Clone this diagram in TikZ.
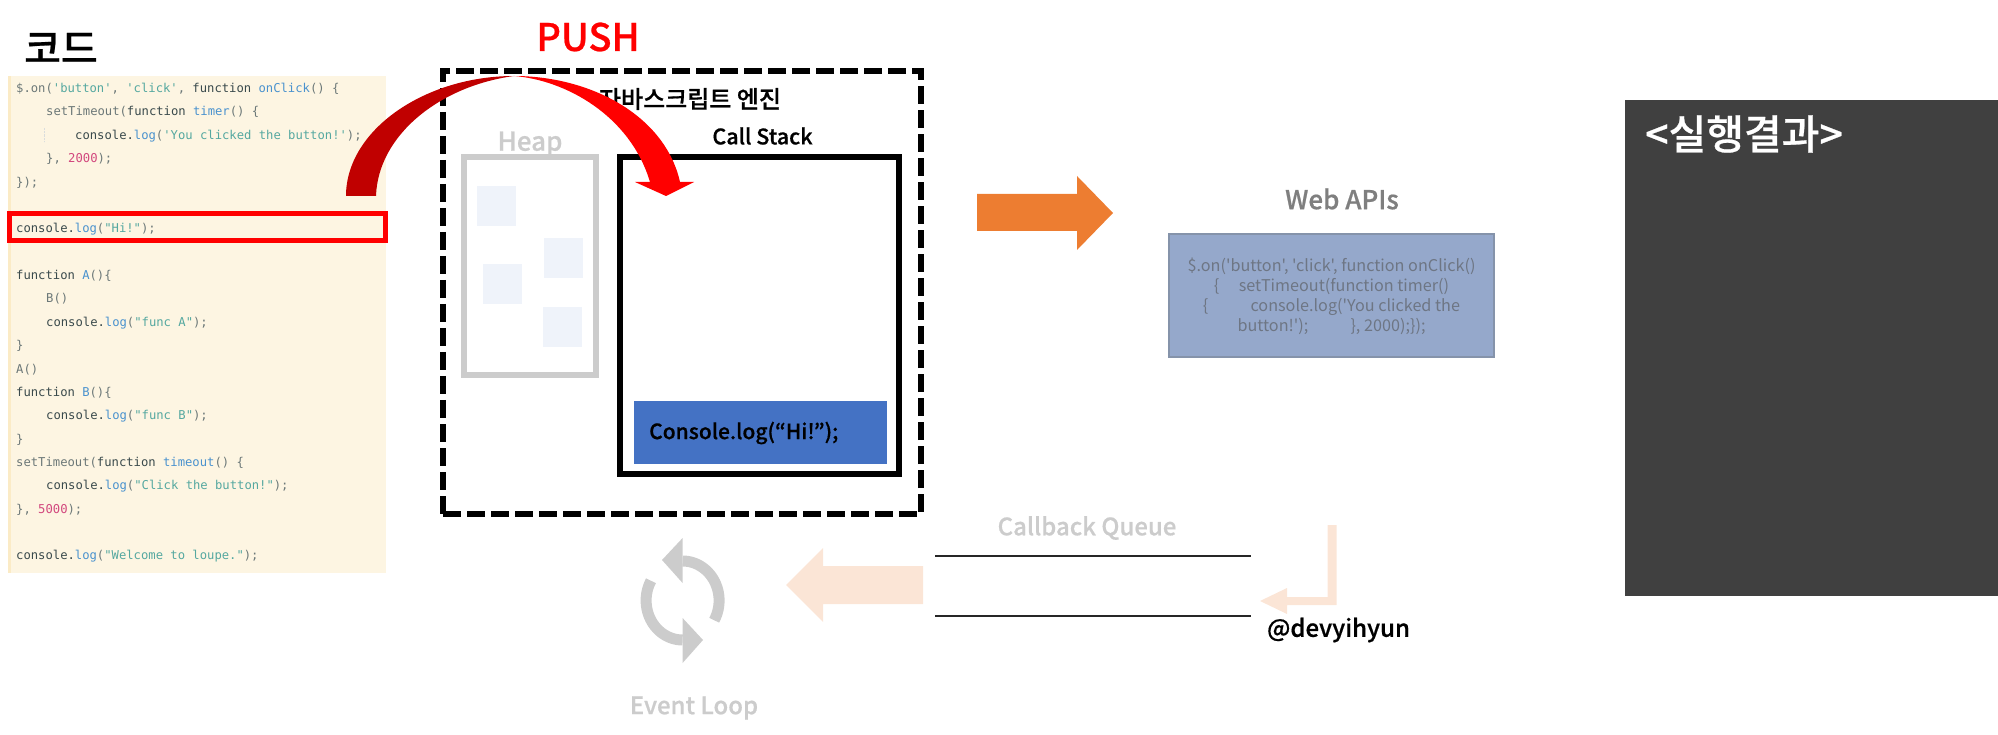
\documentclass[tikz,border=0pt]{standalone}
\usepackage{fontspec}
\newfontfamily\krfont{Noto Sans CJK KR}[BoldFont={Noto Sans CJK KR Medium},BoldFeatures={FakeBold=0.6}]
\newfontfamily\codefont{DejaVu Sans Mono}
\usetikzlibrary{calc,positioning}
\definecolor{codebg}{HTML}{FDF5E2}
\definecolor{codestripe}{HTML}{FBEBC6}
\definecolor{codeplain}{HTML}{3A4A4C}
\definecolor{codegray}{HTML}{6C7878}
\definecolor{codestr}{HTML}{55A8A0}
\definecolor{codefn}{HTML}{4A92CE}
\definecolor{codenum}{HTML}{D2487E}
\definecolor{redlight}{HTML}{FF0000}
\definecolor{reddark}{HTML}{C00000}
\definecolor{fadegray}{HTML}{CCCCCC}
\definecolor{heapcell}{HTML}{EFF3FA}
\definecolor{stackblue}{HTML}{4472C4}
\definecolor{webfill}{HTML}{95A8CB}
\definecolor{webline}{HTML}{8593AA}
\definecolor{webtext}{HTML}{6E7684}
\definecolor{weblabelgray}{HTML}{7F7F7F}
\definecolor{orangearrow}{HTML}{ED7D31}
\definecolor{peacharrow}{HTML}{FBE5D6}
\definecolor{resultbg}{HTML}{404040}
\newcommand{\cstr}[1]{\textcolor{codestr}{#1}}
\newcommand{\cfn}[1]{\textcolor{codefn}{#1}}
\newcommand{\cnum}[1]{\textcolor{codenum}{#1}}
\newcommand{\cgray}[1]{\textcolor{codegray}{#1}}

\begin{document}
\begin{tikzpicture}[
  x=1pt, y=-1pt,
  codeline/.style={anchor=base west, inner sep=0pt, text=codeplain, font=\codefont\fontsize{12.2}{14}\selectfont},
  title/.style={inner sep=0pt, font=\krfont\bfseries\fontsize{#1}{#1}\selectfont},
  boxline/.style={line width=6pt, miter limit=10}
]
  \useasboundingbox (0,0) rectangle (1998,735);

  % Code panel
  \fill[codebg] (8,76) rectangle (386,573);
  \fill[codestripe] (8,76) rectangle (11,573);
  \draw[codegray!25, densely dotted] (44,128) -- (44,142);
  \node[title=40] (codetitle) at (61,48) {코드};
  \node[codeline] (l1) at (16,92.5) {\cgray{\$.on(}\cstr{'button'}\cgray{, }\cstr{'click'}\cgray{, }function \cfn{onClick}\cgray{() \{}};
  \node[codeline] (l2) at (46,116) {\cgray{setTimeout(}function \cfn{timer}\cgray{() \{}};
  \node[codeline] (l3) at (75,139.5) {console.\cfn{log}\cgray{(}\cstr{'You clicked the button!'}\cgray{);}};
  \node[codeline] (l4) at (46,163) {\cgray{\}, }\cnum{2000}\cgray{);}};
  \node[codeline] (l5) at (16,186.5) {\cgray{\});}};
  \node[codeline] (l6) at (16,232.5) {console.\cfn{log}\cgray{(}\cstr{"Hi!"}\cgray{);}};
  \node[codeline] (l7) at (16,279.5) {function \cfn{A}\cgray{()\{}};
  \node[codeline] (l8) at (46,302.5) {\cgray{B()}};
  \node[codeline] (l9) at (46,326.5) {console.\cfn{log}\cgray{(}\cstr{"func A"}\cgray{);}};
  \node[codeline] (l10) at (16,349.5) {\cgray{\}}};
  \node[codeline] (l11) at (16,373.5) {\cgray{A()}};
  \node[codeline] (l12) at (16,396.5) {function \cfn{B}\cgray{()\{}};
  \node[codeline] (l13) at (46,419.5) {console.\cfn{log}\cgray{(}\cstr{"func B"}\cgray{);}};
  \node[codeline] (l14) at (16,443.5) {\cgray{\}}};
  \node[codeline] (l15) at (16,466.5) {\cgray{setTimeout(}function \cfn{timeout}\cgray{() \{}};
  \node[codeline] (l16) at (46,489.5) {console.\cfn{log}\cgray{(}\cstr{"Click the button!"}\cgray{);}};
  \node[codeline] (l17) at (16,513.5) {\cgray{\}, }\cnum{5000}\cgray{);}};
  \node[codeline] (l18) at (16,559.5) {console.\cfn{log}\cgray{(}\cstr{"Welcome to loupe."}\cgray{);}};
  \draw[redlight, line width=5pt] (9.5,213.5) rectangle (385.5,240.5);

  % Engine
  \draw[line width=6pt, dash pattern=on 18pt off 6pt] (443,514) -- (921,514) -- (921,71) -- (443,71) -- cycle;
  \node[title=24] (engine) at (690,99) {자바스크립트 엔진};
  \node[title=26, text=fadegray] (heaplabel) at (530,144) {Heap};
  \draw[boxline, fadegray] (464,157) rectangle (596,375);
  \fill[heapcell] (477,186) rectangle (516,226);
  \fill[heapcell] (544,238) rectangle (583,278);
  \fill[heapcell] (483,264) rectangle (522,304);
  \fill[heapcell] (543,307) rectangle (582,347);
  \node[title=21.5] (stacklabel) at (762.5,136) {Call Stack};
  \draw[boxline] (620,157) rectangle (899,474);
  \fill[stackblue] (634,401) rectangle (887,464);
  \node[title=21, anchor=west] (hi) at (649,433) {Console.log(“Hi!”);};

  % Push arrow
  \fill[reddark] (346,196) .. controls (346,130) and (425,76) .. (514,76)
    .. controls (440,86) and (378,135) .. (376,196) -- cycle;
  \fill[redlight] (514,76) .. controls (590,76) and (665,115) .. (680,182)
    -- (694,182) -- (666,196) -- (635,182) -- (650,182)
    .. controls (630,115) and (565,80) .. (514,76) -- cycle;
  \node[title=38, text=redlight] (push) at (588,37) {PUSH};

  % Web APIs
  \fill[orangearrow] (977,194) -- (1077,194) -- (1077,176) -- (1113,213) -- (1077,250) -- (1077,231) -- (977,231) -- cycle;
  \node[title=26, text=weblabelgray] (weblabel) at (1342,199) {Web APIs};
  \node[draw=webline, line width=2pt, fill=webfill, minimum width=325pt, minimum height=123pt, inner sep=0pt,
    align=center, text=webtext, font=\krfont\fontsize{16.2}{20}\selectfont] (webbox) at (1331.5,296)
    {\$.on('button', 'click', function onClick()\\
     \{\hspace{1.2em}setTimeout(function timer()\\
     \{\hspace{2.6em}console.log('You clicked the\\
     button!');\hspace{2.6em}\}, 2000);\});};

  % Callback queue
  \node[title=24, text=fadegray] (queuelabel) at (1087,528) {Callback Queue};
  \draw[line width=2pt, black!85] (935,556) -- (1251,556);
  \draw[line width=2pt, black!85] (935,616) -- (1251,616);
  \fill[peacharrow] (1336.5,525) -- (1327.5,525) -- (1327.5,597) -- (1287,597) -- (1287,588) -- (1260,601) -- (1287,614) -- (1287,605) -- (1336.5,605) -- cycle;
  \node[title=24] (author) at (1338.5,630) {@devyihyun};
  \fill[peacharrow] (923,566) -- (823,566) -- (823,548) -- (786,585) -- (823,622) -- (823,604) -- (923,604) -- cycle;

  % Event loop
  \draw[fadegray, line width=11pt] plot[domain=-90:30, samples=30] ({682.6+36.5*cos(\x)},{600.5+39.5*sin(\x)});
  \draw[fadegray, line width=11pt] plot[domain=90:210, samples=30] ({682.6+36.5*cos(\x)},{600.5+39.5*sin(\x)});
  \fill[fadegray] (682.6,538) -- (662,560) -- (682.6,583) -- cycle;
  \fill[fadegray] (682.6,618) -- (703,640) -- (682.6,663) -- cycle;
  \node[title=24, text=fadegray] (looplabel) at (694,708) {Event Loop};

  % Result panel
  \fill[resultbg] (1625,100) rectangle (1998,596);
  \node[title=41, text=white, anchor=west] (result) at (1645,134) {<실행결과>};
\end{tikzpicture}
\end{document}
